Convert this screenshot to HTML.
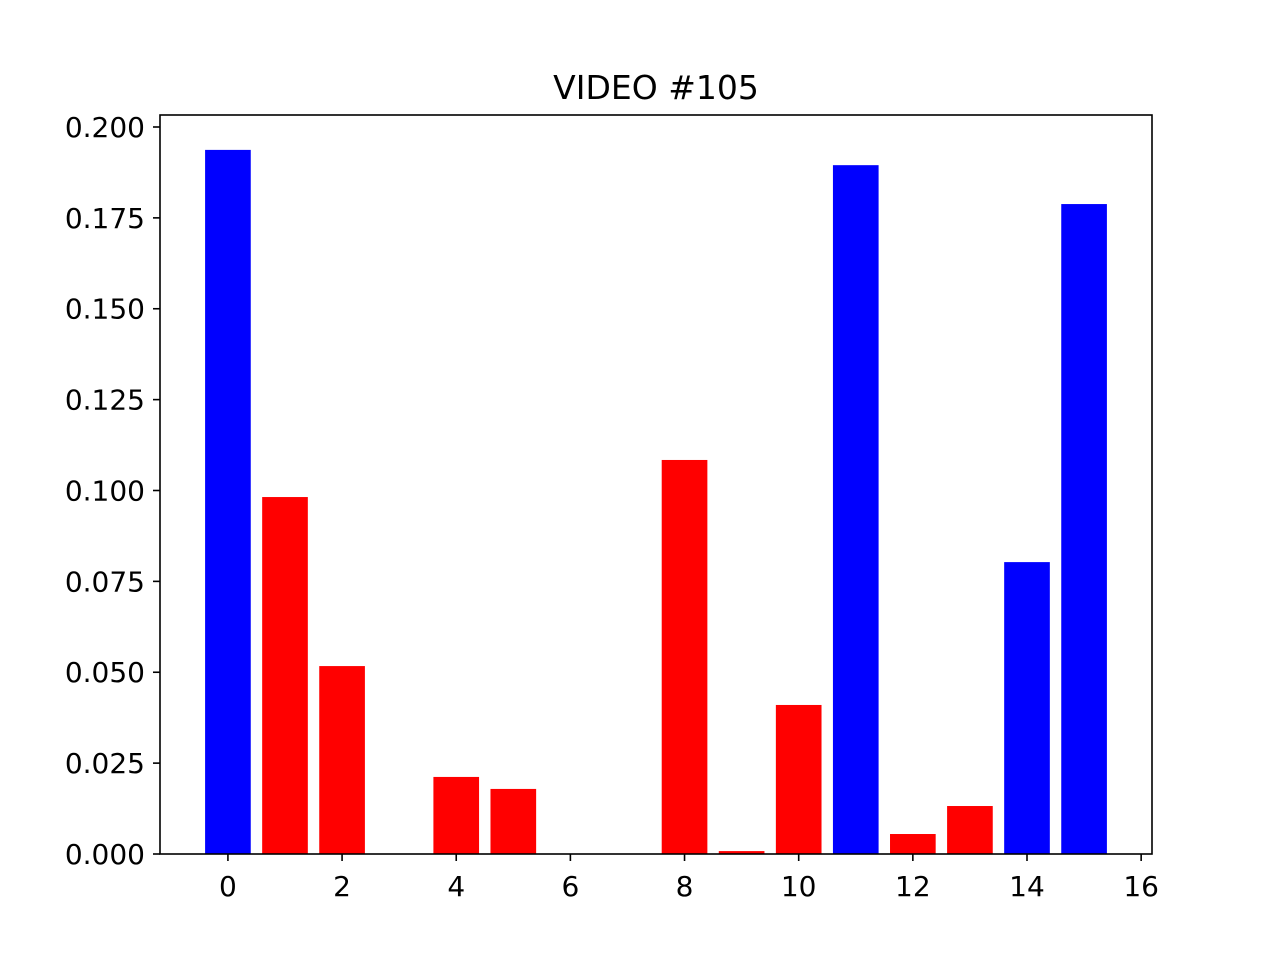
<!DOCTYPE html>
<html><head><meta charset="utf-8"><style>
html,body{margin:0;padding:0;background:#fff;}
svg text{font-family:"DejaVu Sans","Liberation Sans",sans-serif;fill:#000;}
</style></head><body>
<svg id="chart" width="1280" height="960" xmlns="http://www.w3.org/2000/svg">
<rect width="1280" height="960" fill="#fff"/>
<text x="656" y="99" font-size="33" text-anchor="middle">VIDEO #105</text>
<g id="bars"></g>
<g id="axes"></g>
</svg>
<script>
const categories = [0,1,2,3,4,5,6,7,8,9,10,11,12,13,14,15];
const values = [0.1937,0.0982,0.0517,0,0.0212,0.0179,0,0,0.1084,0.0008,0.041,0.1895,0.0055,0.0132,0.0803,0.1788];
const colors = ["blue","red","red","red","red","red","red","red","red","red","red","blue","red","red","blue","blue"];
const xTicks = [0,2,4,6,8,10,12,14,16];
const yTicks = [0,0.025,0.05,0.075,0.1,0.125,0.15,0.175,0.2];
const yTickLabels = ["0.000","0.025","0.050","0.075","0.100","0.125","0.150","0.175","0.200"];

const L=160,R=1152,T=115,B=854;
const xMin=-1.19,xMax=16.19,yMin=0,yMax=0.2033;
const x=v=>L+(v-xMin)/(xMax-xMin)*(R-L);
const y=v=>B-(v-yMin)/(yMax-yMin)*(B-T);
const NS="http://www.w3.org/2000/svg";
const bars=document.getElementById('bars'),axes=document.getElementById('axes');
function mk(tag,attrs,parent){const e=document.createElementNS(NS,tag);for(const k in attrs)e.setAttribute(k,attrs[k]);parent.appendChild(e);return e;}
categories.forEach((c,i)=>{
  const x0=x(c-0.4),x1=x(c+0.4),yt=y(values[i]);
  const r=mk('rect',{x:x0,y:yt,width:x1-x0,height:Math.max(0,B-yt),fill:colors[i]},bars);
  
  
});
const frame=mk('rect',{x:L,y:T,width:R-L,height:B-T,fill:'none',stroke:'#000','stroke-width':1.6},axes);


xTicks.forEach(t=>{
  const px=x(t);
  mk('line',{x1:px,x2:px,y1:B,y2:B+7,stroke:'#000','stroke-width':1.6},axes);
  const tx=mk('text',{x:px,y:B+42,'font-size':28,'text-anchor':'middle'},axes);
  tx.textContent=t;
  
  
});
yTicks.forEach((t,i)=>{
  const py=y(t);
  mk('line',{x1:L-7,x2:L,y1:py,y2:py,stroke:'#000','stroke-width':1.6},axes);
  const tx=mk('text',{x:L-15,y:py+10,'font-size':28,'text-anchor':'end'},axes);
  tx.textContent=yTickLabels[i];
  
  
});
</script>
</body></html>
